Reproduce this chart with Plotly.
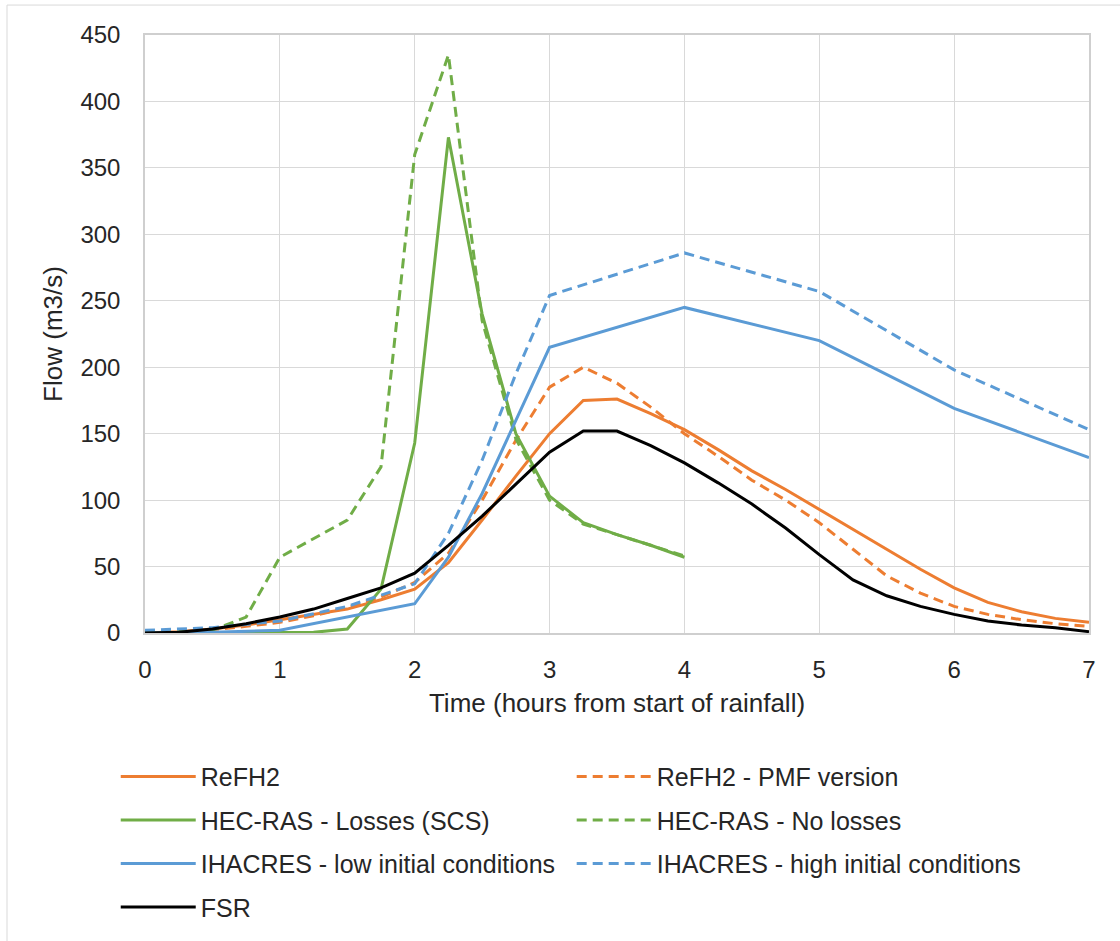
import plotly.graph_objects as go

# ---- data ----
t_q = [0, 0.25, 0.5, 0.75, 1, 1.25, 1.5, 1.75, 2, 2.25, 2.5, 2.75, 3, 3.25, 3.5, 3.75,
       4, 4.25, 4.5, 4.75, 5, 5.25, 5.5, 5.75, 6, 6.25, 6.5, 6.75, 7]
refh2 = [0, 1, 3, 6, 10, 14, 18, 25, 33, 53, 85, 118, 150, 175, 176, 165,
         153, 138, 122, 108, 93, 78, 63, 48, 34, 23, 16, 11, 8]
refh2_pmf = [0, 1, 2.5, 5, 8, 13, 19, 27, 38, 60, 100, 145, 185, 200, 188, 170,
             150, 133, 115, 100, 83, 63, 43, 30, 20, 14, 10, 7, 5]
fsr = [0, 0.5, 3, 7, 12, 18, 26, 34, 45, 66, 88, 112, 136, 152, 152, 141,
       128, 113, 97, 79, 59, 40, 28, 20, 14, 9, 6, 4, 1]

t_hec = [0, 0.25, 0.5, 0.75, 1, 1.25, 1.5, 1.75, 2, 2.25, 2.5, 2.75, 3, 3.25, 3.5, 3.75, 4]
hec_losses = [0, 0, 0, 0, 0, 0.5, 3, 33, 143, 373, 240, 150, 103, 83, 74, 66, 57]
hec_noloss = [1, 1, 2, 12, 57, 71, 85, 125, 360, 435, 235, 146, 100, 82, 74, 66, 58]

t_ih = [0, 0.5, 1, 1.5, 2, 2.25, 2.5, 2.75, 3, 4, 5, 6, 7]
ihacres_low = [0, 0.5, 2, 12, 22, 57, 105, 160, 215, 245, 220, 169, 132]
ihacres_high = [2, 4, 9, 20, 37, 75, 130, 195, 254, 286, 257, 198, 153]

x_ticks = [0, 1, 2, 3, 4, 5, 6, 7]
y_ticks = [0, 50, 100, 150, 200, 250, 300, 350, 400, 450]

ORANGE = "#ED7D31"
GREEN = "#70AD47"
BLUE = "#5B9BD5"
BLACK = "#000000"
DASH = "10px,6px"
FONT = "Liberation Sans, Arial, sans-serif"

series = [
    ("ReFH2", t_q, refh2, ORANGE, "solid", "legend"),
    ("ReFH2 - PMF version", t_q, refh2_pmf, ORANGE, DASH, "legend2"),
    ("HEC-RAS - Losses (SCS)", t_hec, hec_losses, GREEN, "solid", "legend"),
    ("HEC-RAS - No losses", t_hec, hec_noloss, GREEN, DASH, "legend2"),
    ("IHACRES - low initial conditions", t_ih, ihacres_low, BLUE, "solid", "legend"),
    ("IHACRES - high initial conditions", t_ih, ihacres_high, BLUE, DASH, "legend2"),
    ("FSR", t_q, fsr, BLACK, "solid", "legend"),
]

fig = go.Figure()
for i, (name, x, y, col, dash, leg) in enumerate(series):
    fig.add_trace(go.Scatter(
        x=x, y=y, mode="lines", name=name,
        line=dict(color=col, width=3, dash=dash),
        legend=leg, legendgroup="g%d" % i,
    ))

axis_common = dict(
    showgrid=True, gridcolor="#d9d9d9", gridwidth=1.3,
    showline=True, linecolor="#cfcfcf", linewidth=1.5, mirror=True,
    zeroline=False, ticks="",
    tickfont=dict(size=24, color="#262626", family=FONT),
)

fig.update_layout(
    width=1120, height=941,
    margin=dict(l=145, r=31, t=35, b=307),
    paper_bgcolor="white", plot_bgcolor="white",
    font=dict(family=FONT, color="#262626"),
    xaxis=dict(range=[0, 7], tickvals=x_ticks, ticklabelstandoff=14,
               title=dict(text="Time (hours from start of rainfall)",
                          font=dict(size=26, color="#262626"), standoff=12),
               **axis_common),
    yaxis=dict(range=[0, 450], tickvals=y_ticks, ticklabelstandoff=18,
               title=dict(text="Flow (m3/s)", font=dict(size=26, color="#262626"),
                          standoff=10),
               **axis_common),
    legend=dict(x=-0.031, y=-0.2, xanchor="left", yanchor="top",
                orientation="v", font=dict(size=25, color="#262626"),
                tracegroupgap=8, itemwidth=75, bgcolor="rgba(0,0,0,0)"),
    legend2=dict(x=0.452, y=-0.2, xanchor="left", yanchor="top",
                 orientation="v", font=dict(size=25, color="#262626"),
                 tracegroupgap=8, itemwidth=75, bgcolor="rgba(0,0,0,0)"),
    showlegend=True,
)

fig.add_shape(type="rect", xref="paper", yref="paper",
              x0=(7 - 145) / 944, x1=(1130 - 145) / 944,
              y0=(634 - 950) / 599, y1=(634 - 5) / 599,
              line=dict(color="#d9d9d9", width=1), fillcolor="rgba(0,0,0,0)",
              layer="below")

fig.write_html("out.html")
